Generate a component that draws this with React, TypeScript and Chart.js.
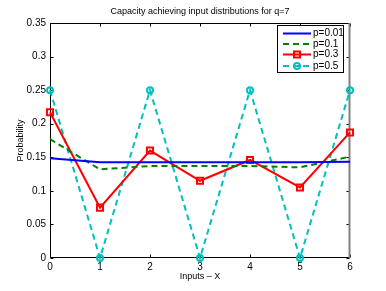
import React, { useEffect, useRef } from "react";
import { Chart, registerables } from "chart.js";

Chart.register(...registerables);

const categories = ["0", "1", "2", "3", "4", "5", "6"];
const p001 = [0.1485, 0.1425, 0.1425, 0.1425, 0.1425, 0.1425, 0.1435];
const p01 = [0.177, 0.132, 0.137, 0.137, 0.137, 0.135, 0.151];
const p03 = [0.217, 0.075, 0.16, 0.115, 0.146, 0.105, 0.187];
const p05 = [0.25, 0, 0.25, 0, 0.25, 0, 0.25];
const seriesNames = ["p=0.01", "p=0.1", "p=0.3", "p=0.5"];
const yTickValues = [0, 0.05, 0.1, 0.15, 0.2, 0.25, 0.3, 0.35];
const yTickLabels = ["0", "0.05", "0.1", "0.15", "0.2", "0.25", "0.3", "0.35"];
const titleText = "Capacity achieving input distributions for q=7";
const xTitle = "Inputs \u2013 X";
const yTitle = "Probability";

const FONT = "'Liberation Sans', Arial, Helvetica, sans-serif";

const framePlugin = {
  id: "frame",
  beforeDatasetsDraw(chart: any) {
    const { ctx, chartArea: a, scales } = chart;
    const L = Math.round(a.left) + 0.5;
    const R = Math.round(a.right) - 0.5;
    const T = Math.round(a.top) + 0.5;
    const B = Math.round(a.bottom) - 0.5;
    ctx.save();
    ctx.strokeStyle = "#000";
    ctx.lineWidth = 1;
    const tl = 3;
    ctx.beginPath();
    // x ticks top and bottom
    categories.forEach((_, i) => {
      const x = Math.round(scales.x.getPixelForValue(i)) + 0.5;
      ctx.moveTo(x, B);
      ctx.lineTo(x, B - tl);
      ctx.moveTo(x, T);
      ctx.lineTo(x, T + tl);
    });
    yTickValues.forEach((v) => {
      const y = Math.round(scales.y.getPixelForValue(v)) + 0.5;
      ctx.moveTo(L, y);
      ctx.lineTo(L + tl, y);
      ctx.moveTo(R, y);
      ctx.lineTo(R - tl, y);
    });
    ctx.stroke();
    ctx.beginPath();
    ctx.moveTo(R, T);
    ctx.lineTo(L, T);
    ctx.lineTo(L, B);
    ctx.lineTo(R, B);
    ctx.stroke();
    ctx.strokeStyle = "#808080";
    ctx.lineWidth = 2;
    ctx.beginPath();
    ctx.moveTo(R, T - 0.5);
    ctx.lineTo(R, B + 0.5);
    ctx.stroke();
    ctx.restore();
  },
  afterDraw(chart: any) {
    const { ctx, chartArea: a } = chart;
    ctx.save();
    ctx.fillStyle = "#000";
    ctx.textAlign = "center";
    ctx.textBaseline = "middle";
    ctx.font = `9px ${FONT}`;
    ctx.fillText(titleText, (a.left + a.right) / 2, 12);
    ctx.fillText(xTitle, (a.left + a.right) / 2, 277);
    ctx.save();
    ctx.translate(21, (a.top + a.bottom) / 2);
    ctx.rotate(-Math.PI / 2);
    ctx.fillText(yTitle, 0, 0);
    ctx.restore();

    // legend
    const bx = 277.5, by = 25.5, bw = 66, bh = 47;
    ctx.fillStyle = "#fff";
    ctx.fillRect(bx, by, bw, bh);
    ctx.strokeStyle = "#000";
    ctx.lineWidth = 1;
    ctx.strokeRect(bx, by, bw, bh);
    const rows = [33.5, 44, 54.5, 66];
    chart.data.datasets.forEach((ds: any, i: number) => {
      const y = rows[i];
      ctx.strokeStyle = ds.borderColor;
      ctx.lineWidth = ds.borderWidth;
      ctx.setLineDash(ds.borderDash || []);
      ctx.beginPath();
      ctx.moveTo(283, y);
      ctx.lineTo(311, y);
      ctx.stroke();
      ctx.setLineDash([]);
      if (ds.pointRadius > 0) {
        ctx.lineWidth = ds.pointBorderWidth;
        ctx.beginPath();
        if (ds.pointStyle === "rect") {
          ctx.rect(297 - 3, y - 3, 6, 6);
        } else {
          ctx.arc(297, y, 3, 0, Math.PI * 2);
        }
        ctx.stroke();
      }
      ctx.fillStyle = "#000";
      ctx.textAlign = "left";
      ctx.textBaseline = "middle";
      ctx.font = `10px ${FONT}`;
      ctx.fillText(ds.label, 313, y);
    });
    ctx.restore();
  },
};

export default function App() {
  const ref = useRef<HTMLCanvasElement | null>(null);
  useEffect(() => {
    if (!ref.current) return;
    Chart.defaults.font.family = FONT;
    Chart.defaults.font.size = 10;
    Chart.defaults.color = "#000";
    const chart = new Chart(ref.current, {
      type: "line",
      data: {
        labels: categories,
        datasets: [
          {
            label: seriesNames[0],
            data: p001,
            borderColor: "#0000ff",
            borderWidth: 2,
            pointRadius: 0,
            clip: false,
          },
          {
            label: seriesNames[1],
            data: p01,
            borderColor: "#008000",
            borderWidth: 2,
            borderDash: [6, 4],
            pointRadius: 0,
            clip: false,
          },
          {
            label: seriesNames[2],
            data: p03,
            borderColor: "#ff0000",
            borderWidth: 2,
            pointStyle: "rect",
            pointRadius: 4.3,
            pointBorderWidth: 2,
            pointBorderColor: "#ff0000",
            pointBackgroundColor: "rgba(255,255,255,0)",
            clip: false,
          },
          {
            label: seriesNames[3],
            data: p05,
            borderColor: "#00bfbf",
            borderWidth: 2,
            borderDash: [6, 4],
            pointStyle: "circle",
            pointRadius: 3,
            pointBorderWidth: 2,
            pointBorderColor: "#00bfbf",
            pointBackgroundColor: "rgba(255,255,255,0)",
            clip: false,
          },
        ] as any,
      },
      options: {
        animation: false,
        responsive: false,
        maintainAspectRatio: false,
        layout: { padding: { top: 23, right: 36, left: 0, bottom: 0 } },
        plugins: {
          legend: { display: false },
          title: { display: false },
          tooltip: { enabled: false },
        },
        elements: { line: { tension: 0 } },
        scales: {
          x: {
            type: "category",
            offset: false,
            grid: { display: false, drawTicks: false },
            border: { display: false },
            ticks: { padding: 3, maxRotation: 0, autoSkip: false, color: "#000" },
            afterFit: (s: any) => {
              s.height = 33;
            },
          },
          y: {
            type: "linear",
            min: 0,
            max: 0.35,
            grid: { display: false, drawTicks: false },
            border: { display: false },
            afterBuildTicks: (s: any) => {
              s.ticks = yTickValues.map((v) => ({ value: v }));
            },
            ticks: {
              padding: 4,
              color: "#000",
              callback: (_v: any, i: number) => yTickLabels[i],
            },
            afterFit: (s: any) => {
              s.width = 50;
            },
          },
        },
      } as any,
      plugins: [framePlugin],
    });
    return () => chart.destroy();
  }, []);
  return (
    <div style={{ position: "absolute", left: 0, top: 0, width: 386, height: 291, background: "#fff" }}>
      <canvas ref={ref} width={386} height={291} style={{ width: 386, height: 291, display: "block" }} />
    </div>
  );
}
